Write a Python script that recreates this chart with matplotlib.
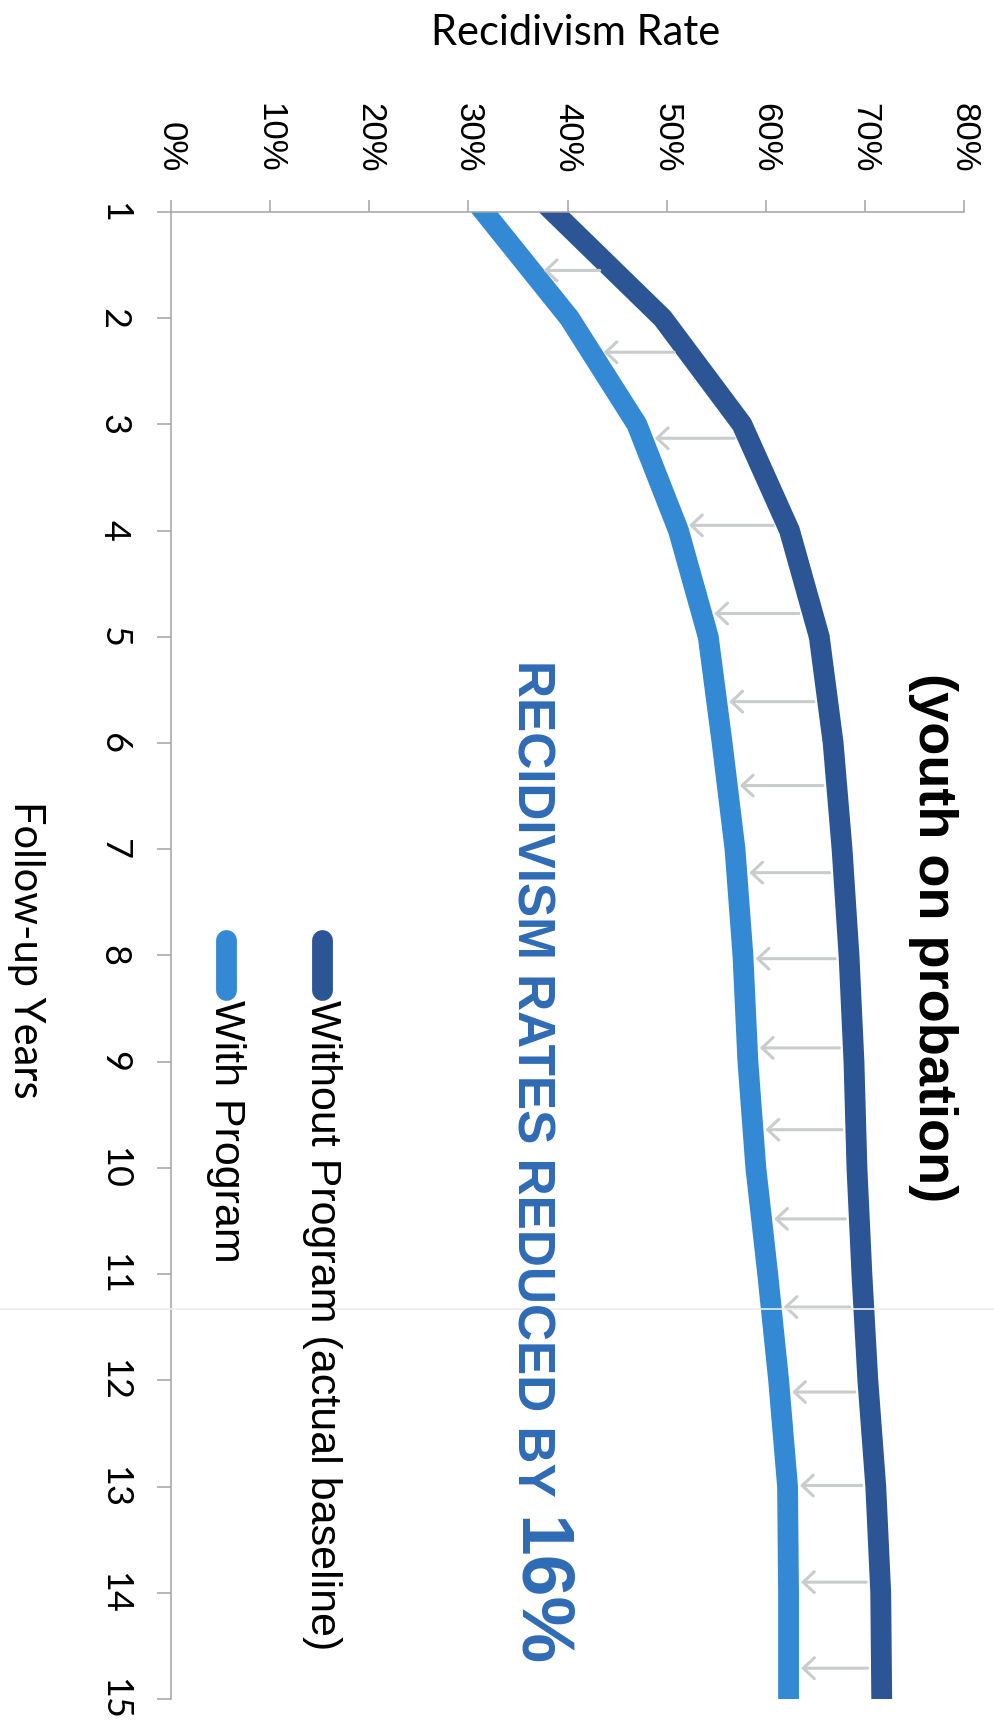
import numpy as np
import matplotlib.pyplot as plt
from matplotlib.lines import Line2D

years = list(range(1, 16))
without_program = [38.6, 49.6, 57.6, 62.4, 65.4, 66.8, 67.7, 68.4, 68.9,
                   69.2, 69.7, 70.3, 71.1, 71.6, 71.7]
with_program = [31.6, 40.2, 47.0, 51.2, 54.2, 55.6, 56.9, 57.7, 58.2,
                59.0, 60.2, 61.3, 62.2, 62.3, 62.3]
arrow_years = [1.55, 2.32, 3.13, 3.95, 4.78, 5.61, 6.40, 7.22, 8.03,
               8.87, 9.64, 10.48, 11.31, 12.11, 12.99, 13.90, 14.71]
rate_ticks = [0, 10, 20, 30, 40, 50, 60, 70, 80]
rate_labels = ['0%', '10%', '20%', '30%', '40%', '50%', '60%', '70%', '80%']
series_names = ['Without Program (actual baseline)', 'With Program']

dark = '#2c5596'
light = '#3489d5'
grey = '#a3a3a3'
W, H = 995, 1723

fig = plt.figure(figsize=(W / 100, H / 100), dpi=100)
ax = fig.add_axes([171 / W, 24 / H, 793 / W, 1487 / H])

ax.plot(without_program, years, color=dark, lw=15, solid_capstyle='projecting')
ax.plot(with_program, years, color=light, lw=15, solid_capstyle='projecting')

# grey arrows from the baseline line to the program line
for yr in arrow_years:
    x0 = np.interp(yr, years, without_program)
    x1 = np.interp(yr, years, with_program)
    ax.annotate('', xy=(x1, yr), xytext=(x0, yr),
                arrowprops=dict(arrowstyle='->,head_length=0.8,head_width=0.75',
                                color='#c9cccc', lw=2.2, shrinkA=10, shrinkB=9,
                                mutation_scale=10))

ax.set_xlim(0, 80)
ax.set_ylim(15, 1)
ax.xaxis.tick_top()
ax.set_xticks(rate_ticks)
ax.set_xticklabels(rate_labels, rotation=-90, fontsize=25, family='Liberation Sans')
ax.tick_params(axis='x', direction='out', length=8.6, width=1.1, color=grey, pad=20)
ax.set_yticks(years)
ax.set_yticklabels([str(y) for y in years], rotation=-90, fontsize=26,
                   family='Lato', va='center')
ax.tick_params(axis='y', direction='out', length=10, width=1.1, color=grey, pad=19)
for side in ['right', 'bottom']:
    ax.spines[side].set_visible(False)
for side in ['left', 'top']:
    ax.spines[side].set_color(grey)
    ax.spines[side].set_linewidth(1.1)

fig.text(576 / W, 1 - 33 / H, 'Recidivism Rate', ha='center', va='center',
         fontsize=30, family='Lato')
fig.text(26 / W, 1 - 950 / H, 'Follow-up Years', rotation=-90, ha='center',
         va='center', fontsize=30, family='Lato')
fig.text(933 / W, 1 - 673 / H, '(youth on probation)', rotation=-90, ha='center',
         va='top', fontsize=39, weight='bold', family='Liberation Sans')

blue = '#2f6bb6'
fig.text(518 / W, 1 - 660 / H, 'RECIDIVISM RATES REDUCED BY', rotation=-90,
         rotation_mode='anchor', ha='left', va='baseline', fontsize=37,
         weight='bold', color=blue, family='Liberation Sans')
fig.text(518 / W, 1 - 1517 / H, '16%', rotation=-90, rotation_mode='anchor',
         ha='left', va='baseline', fontsize=54, weight='bold', color=blue,
         family='Liberation Sans')

# legend drawn by hand, since it is rotated with the rest
for xpix, col, name in [(322, dark, series_names[0]), (226, light, series_names[1])]:
    fig.add_artist(Line2D([xpix / W, xpix / W], [1 - 940 / H, 1 - 990 / H],
                          transform=fig.transFigure, color=col, lw=15,
                          solid_capstyle='round'))
    fig.text(xpix / W, 1 - 1000 / H, name, rotation=-90, ha='center', va='top',
             fontsize=31, family='Liberation Sans')

# faint fold line from the scan
fig.add_artist(Line2D([0, 1], [1 - 1309 / H, 1 - 1309 / H],
                      transform=fig.transFigure, color='#ececec', lw=1.2))

fig.savefig('out.png', dpi=100)
